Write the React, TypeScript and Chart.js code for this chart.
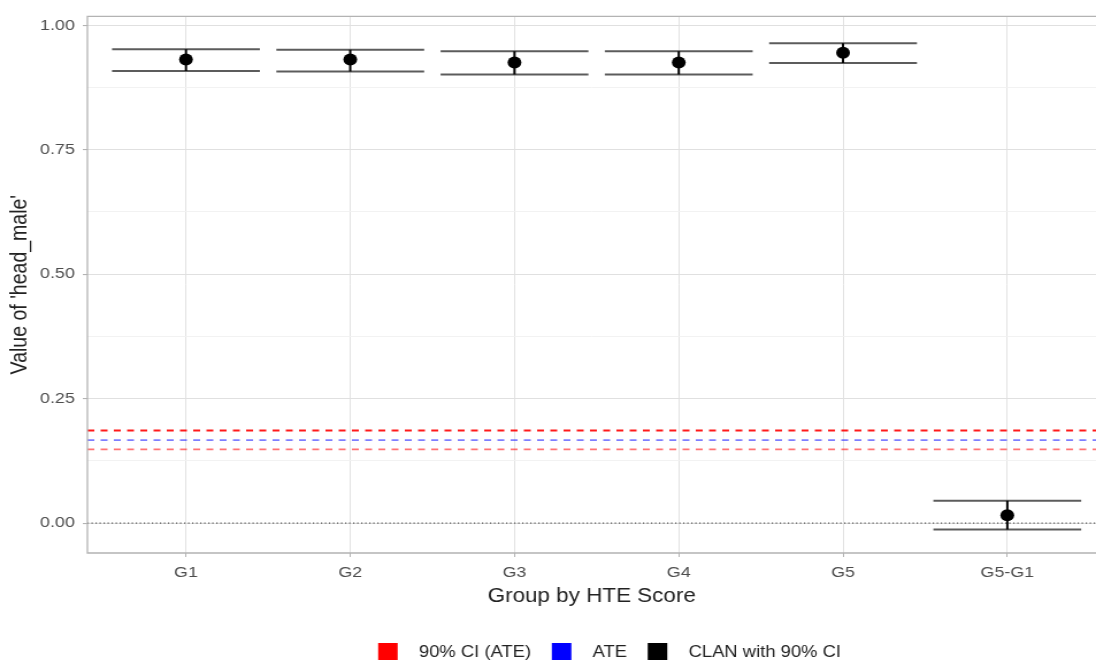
import React, { useEffect, useRef } from 'react';
import { Chart, registerables } from 'chart.js';

Chart.register(...registerables);

// ---------- data ----------
const categories = ['G1', 'G2', 'G3', 'G4', 'G5', 'G5-G1'];
const estimates = [0.931, 0.931, 0.925, 0.925, 0.945, 0.016];
const lowerCI = [0.908, 0.907, 0.901, 0.901, 0.924, -0.013];
const upperCI = [0.952, 0.951, 0.948, 0.948, 0.964, 0.045];
const ateValue = 0.1666;
const ateLower = 0.148;
const ateUpper = 0.186;
const yTickValues = [0, 0.125, 0.25, 0.375, 0.5, 0.625, 0.75, 0.875, 1.0];
const yMajorTicks = [0, 0.25, 0.5, 0.75, 1.0];
const legendLabels = ['90% CI (ATE)', 'ATE', 'CLAN with 90% CI'];
const legendColors = ['#ff0000', '#0000ff', '#000000'];

// ---------- layout / style constants ----------
const CANVAS_W = 953;
const CANVAS_H = 662;
const X_MIN = 0.4;
const X_MAX = 6.54;
const Y_MIN = -0.06;
const Y_MAX = 1.018;
const BAR_HALF = 0.45;
const FONT = "'Liberation Sans', Arial, Helvetica, sans-serif";

const isMajor = (v: number) => yMajorTicks.some((m) => Math.abs(m - v) < 1e-9);

const panelBorderPlugin = {
  id: 'panelBorder',
  afterDatasetsDraw(chart: any) {
    const { ctx, chartArea } = chart;
    const { left, top, right, bottom } = chartArea;
    ctx.save();
    ctx.strokeStyle = '#b3b3b3';
    ctx.lineWidth = 1.3;
    ctx.beginPath();
    ctx.moveTo(right + 5, top);
    ctx.lineTo(left, top);
    ctx.lineTo(left, bottom);
    ctx.lineTo(right + 5, bottom);
    ctx.stroke();
    ctx.restore();
  },
};

const legendPlugin = {
  id: 'customLegend',
  afterDraw(chart: any) {
    const { ctx } = chart;
    const box = 17;
    const gapText = 18.5;
    const gapItem = 18;
    const centerX = 530;
    const centerY = 651.5;
    ctx.save();
    ctx.font = `16px ${FONT}`;
    const widths = legendLabels.map((t) => ctx.measureText(t).width);
    const total =
      widths.reduce((a, b) => a + b, 0) + legendLabels.length * (box + gapText) + (legendLabels.length - 1) * gapItem;
    let x = centerX - total / 2;
    ctx.textBaseline = 'middle';
    ctx.textAlign = 'left';
    legendLabels.forEach((label, i) => {
      ctx.fillStyle = legendColors[i];
      ctx.fillRect(x, centerY - box / 2, box, box);
      x += box + gapText;
      ctx.fillStyle = '#222';
      ctx.fillText(label, x, centerY + 1);
      x += widths[i] + gapItem;
    });
    ctx.restore();
  },
};

export default function App() {
  const canvasRef = useRef<HTMLCanvasElement | null>(null);

  useEffect(() => {
    if (!canvasRef.current) return;

    const points = categories.map((_, i) => ({ x: i + 1, y: estimates[i] }));
    const stems: any[] = [];
    const caps: any[] = [];
    categories.forEach((_, i) => {
      const c = i + 1;
      stems.push({ x: c, y: lowerCI[i] }, { x: c, y: upperCI[i] }, { x: c, y: null });
      caps.push({ x: c - BAR_HALF, y: upperCI[i] }, { x: c + BAR_HALF, y: upperCI[i] }, { x: c, y: null });
      caps.push({ x: c - BAR_HALF, y: lowerCI[i] }, { x: c + BAR_HALF, y: lowerCI[i] }, { x: c, y: null });
    });
    const hline = (v: number) => [
      { x: X_MIN, y: v },
      { x: X_MAX, y: v },
    ];

    const lineBase = { showLine: true, pointRadius: 0, fill: false, spanGaps: false, tension: 0 };

    const chart = new Chart(canvasRef.current, {
      type: 'scatter',
      data: {
        datasets: [
          {
            label: 'CLAN',
            data: points,
            pointRadius: 6,
            pointBackgroundColor: '#000',
            pointBorderColor: '#000',
            pointBorderWidth: 0,
            showLine: false,
            order: 0,
          } as any,
          { ...lineBase, label: 'stems', data: stems, borderColor: '#000', borderWidth: 2, order: 1 },
          { ...lineBase, label: 'caps', data: caps, borderColor: '#5c5c5c', borderWidth: 2, order: 2 },
          { ...lineBase, label: 'CI upper', data: hline(ateUpper), borderColor: 'rgba(255,0,0,0.9)', borderWidth: 1.8, borderDash: [6, 5.5], order: 3 },
          { ...lineBase, label: 'ATE', data: hline(ateValue), borderColor: 'rgba(40,40,255,0.6)', borderWidth: 1.8, borderDash: [6, 5.5], order: 4 },
          { ...lineBase, label: 'CI lower', data: hline(ateLower), borderColor: 'rgba(255,0,0,0.55)', borderWidth: 1.8, borderDash: [6, 5.5], order: 5 },
          { ...lineBase, label: 'zero', data: hline(0), borderColor: '#555', borderWidth: 1.2, borderDash: [1.2, 2.3], order: 6 },
        ] as any,
      },
      options: {
        responsive: false,
        maintainAspectRatio: false,
        animation: false,
        events: [],
        devicePixelRatio: 1,
        layout: { autoPadding: false, padding: { top: 14, right: 0, bottom: 50, left: 0 } },
        plugins: {
          legend: { display: false },
          tooltip: { enabled: false },
        },
        scales: {
          x: {
            type: 'linear',
            min: X_MIN,
            max: X_MAX,
            afterBuildTicks: (s: any) => {
              s.ticks = categories.map((_, i) => ({ value: i + 1 }));
            },
            afterFit: (s: any) => {
              s.height = 59;
              s.paddingLeft = 0;
              s.paddingRight = 0;
            },
            ticks: {
              autoSkip: false,
              maxRotation: 0,
              minRotation: 0,
              padding: 6,
              color: '#4d4d4d',
              font: { family: FONT, size: 15.5 },
              callback: (v: any) => categories[Math.round(Number(v)) - 1] ?? '',
            },
            grid: { color: '#e2e2e2', lineWidth: 1, tickLength: 4, tickColor: '#b3b3b3' },
            border: { display: false },
            title: {
              display: true,
              text: 'Group by HTE Score',
              color: '#222',
              font: { family: FONT, size: 19.5 },
              padding: { top: 0, bottom: 4 },
            },
          },
          y: {
            type: 'linear',
            min: Y_MIN,
            max: Y_MAX,
            afterBuildTicks: (s: any) => {
              s.ticks = yTickValues.map((v) => ({ value: v }));
            },
            afterFit: (s: any) => {
              s.width = 76;
            },
            ticks: {
              padding: 7,
              color: '#4d4d4d',
              font: { family: FONT, size: 15.5 },
              callback: (v: any) => (isMajor(Number(v)) ? Number(v).toFixed(2) : ''),
            },
            grid: {
              color: (c: any) => (isMajor(c.tick?.value) ? '#e0e0e0' : '#f0f0f0'),
              lineWidth: (c: any) => (isMajor(c.tick?.value) ? 1.1 : 0.9),
              tickLength: 4,
              tickColor: (c: any) => (isMajor(c.tick?.value) ? '#b3b3b3' : 'rgba(0,0,0,0)'),
            },
            border: { display: false },
            title: {
              display: true,
              text: "Value of 'head_male'",
              color: '#222',
              font: { family: FONT, size: 19.5 },
              padding: { top: 6, bottom: 0 },
            },
          },
        },
      } as any,
      plugins: [panelBorderPlugin, legendPlugin],
    });

    return () => chart.destroy();
  }, []);

  return (
    <div style={{ position: 'fixed', left: 0, top: 0, width: 1096, height: 662, background: '#fff' }}>
      <canvas
        ref={canvasRef}
        width={CANVAS_W}
        height={CANVAS_H}
        style={{ width: '1096px', height: '662px', display: 'block' }}
      />
    </div>
  );
}
